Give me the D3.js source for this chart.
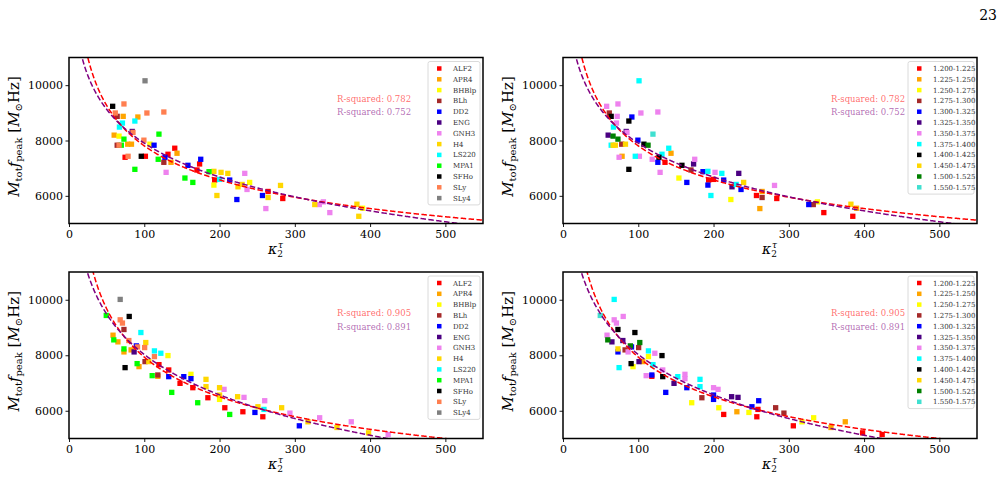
<!DOCTYPE html>
<html>
<head>
<meta charset="utf-8">
<script src="https://cdn.jsdelivr.net/npm/d3@7"></script>
<style>
  body { margin: 0; background: #fff; }
  text { font-family: "DejaVu Serif", serif; }
</style>
</head>
<body>
<svg id="chart"></svg>
<script>
// Equations of state and their colours (left panels)
const eosNames = ["ALF2", "APR4", "BHBlp", "BLh", "DD2", "ENG", "GNH3", "H4", "LS220", "MPA1", "SFHo", "SLy", "SLy4"];
const eosColors = ["#ff0000", "#ffa500", "#ffff00", "#a52a2a", "#0000ff", "#4b0082", "#ee82ee", "#ffd700", "#00ffff", "#00ff00", "#000000", "#ff7f50", "#808080"];

// Mass bins and their colours (right panels)
const massBins = ["1.200-1.225", "1.225-1.250", "1.250-1.275", "1.275-1.300", "1.300-1.325", "1.325-1.350", "1.350-1.375", "1.375-1.400", "1.400-1.425", "1.450-1.475", "1.500-1.525", "1.550-1.575"];
const massColors = ["#ff0000", "#ffa500", "#ffff00", "#a52a2a", "#0000ff", "#4b0082", "#ee82ee", "#00ffff", "#000000", "#ffd700", "#008000", "#40e0d0"];

// Ticks
const xTicks = [0, 100, 200, 300, 400, 500];
const yTicks = [6000, 8000, 10000];

// Top row: [kappa, M f_peak, EOS, mass bin]
const topPoints = [
  [58, 9236, "SFHo", "1.350-1.375"], [101, 10158, "SLy4", "1.375-1.400"], [73, 9321, "SLy", "1.350-1.375"],
  [61.5, 8994, "SLy", "1.275-1.300"], [64, 8873, "BLh", "1.400-1.425"], [72, 8873, "APR4", "1.350-1.375"],
  [71, 8630, "LS220", "1.350-1.375"], [67, 8485, "LS220", "1.375-1.400"], [87.5, 8703, "LS220", "1.400-1.425"],
  [91.5, 8849, "APR4", "1.300-1.325"], [103.5, 8994, "SLy", "1.350-1.375"], [126, 9030, "SLy", "1.350-1.375"],
  [84, 8327, "ENG", "1.325-1.350"], [85, 8291, "SLy", "1.350-1.375"], [60, 8194, "APR4", "1.325-1.350"],
  [66.5, 8158, "BHBlp", "1.500-1.525"], [73, 8049, "MPA1", "1.500-1.525"], [119.5, 8230, "MPA1", "1.550-1.575"],
  [99.5, 8012, "SLy", "1.300-1.325"], [64, 7830, "BLh", "1.375-1.400"], [66.5, 7830, "SLy", "1.450-1.475"],
  [69.5, 7830, "MPA1", "1.450-1.475"], [78, 7867, "APR4", "1.275-1.300"], [83, 7867, "APR4", "1.450-1.475"],
  [107.5, 7867, "BHBlp", "1.400-1.425"], [113, 7830, "DD2", "1.500-1.525"], [74.5, 7394, "ALF2", "1.350-1.375"],
  [78.5, 7430, "SLy", "1.225-1.250"], [96, 7430, "SFHo", "1.375-1.400"], [101.5, 7430, "ALF2", "1.350-1.375"],
  [87.5, 6958, "MPA1", "1.400-1.425"], [118.5, 7321, "MPA1", "1.350-1.375"], [131.5, 7503, "ALF2", "1.375-1.400"],
  [127.5, 7394, "DD2", "1.400-1.425"], [126, 7212, "BLh", "1.300-1.325"], [140.5, 7721, "ALF2", "1.375-1.400"],
  [143.5, 7539, "APR4", "1.225-1.250"], [135.5, 7212, "APR4", "1.200-1.225"], [129, 6849, "GNH3", "1.350-1.375"],
  [158, 7103, "DD2", "1.400-1.425"], [154, 6643, "MPA1", "1.250-1.275"], [164.5, 6485, "MPA1", "1.300-1.325"],
  [170, 6934, "ALF2", "1.275-1.300"], [173.5, 7152, "ALF2", "1.325-1.350"], [175, 7321, "DD2", "1.350-1.375"],
  [186, 6873, "MPA1", "1.300-1.325"], [192.5, 6885, "H4", "1.375-1.400"], [202, 6849, "H4", "1.350-1.375"],
  [211, 6812, "H4", "1.375-1.400"], [193.5, 6570, "ALF2", "1.200-1.225"], [192.5, 6388, "BHBlp", "1.300-1.325"],
  [196.5, 6012, "H4", "1.375-1.400"], [200, 6594, "LS220", "1.200-1.225"], [213.5, 6570, "DD2", "1.300-1.325"],
  [224.5, 6327, "H4", "1.325-1.350"], [230, 6412, "H4", "1.375-1.400"], [240, 6485, "BHBlp", "1.450-1.475"],
  [233.5, 6812, "GNH3", "1.325-1.350"], [236.5, 6230, "GNH3", "1.300-1.325"], [223, 5867, "DD2", "1.250-1.275"],
  [257, 6012, "DD2", "1.200-1.225"], [264.5, 5940, "H4", "1.275-1.300"], [264.5, 6158, "ALF2", "1.225-1.250"],
  [261.5, 5540, "GNH3", "1.225-1.250"], [281, 6376, "H4", "1.350-1.375"], [284, 5903, "ALF2", "1.200-1.225"],
  [326.5, 5685, "H4", "1.300-1.325"], [332.5, 5685, "GNH3", "1.275-1.300"], [338, 5782, "GNH3", "1.250-1.275"],
  [346.5, 5394, "GNH3", "1.200-1.225"], [382.5, 5697, "H4", "1.450-1.475"], [390, 5552, "BHBlp", "1.225-1.250"],
  [385, 5261, "H4", "1.200-1.225"]
];

// Bottom row: [kappa, M f_peak, EOS, mass bin]
const bottomPoints = [
  [68, 10012, "SLy4", "1.375-1.400"], [49.5, 9434, "MPA1", "1.550-1.575"], [80, 9398, "SFHo", "1.350-1.375"],
  [68, 9277, "SLy", "1.350-1.375"], [71, 9160, "SLy", "1.350-1.375"], [73, 8928, "BLh", "1.400-1.425"],
  [58.5, 8723, "APR4", "1.350-1.375"], [59.5, 8554, "MPA1", "1.500-1.525"], [65, 8482, "APR4", "1.325-1.350"],
  [95.5, 8819, "LS220", "1.400-1.425"], [79.5, 8530, "SLy", "1.325-1.350"], [102, 8458, "H4", "1.500-1.525"],
  [100.5, 8277, "SLy", "1.275-1.300"], [89.5, 8337, "DD2", "1.500-1.525"], [91, 8300, "SLy", "1.300-1.325"],
  [73, 8229, "MPA1", "1.450-1.475"], [73, 8120, "APR4", "1.300-1.325"], [86.5, 8120, "ENG", "1.350-1.375"],
  [82.5, 8193, "APR4", "1.275-1.300"], [113.5, 8157, "LS220", "1.375-1.400"], [113.5, 7952, "SLy", "1.250-1.275"],
  [122, 8072, "LS220", "1.350-1.375"], [131.5, 7988, "BHBlp", "1.400-1.425"], [101, 7771, "BLh", "1.325-1.350"],
  [106, 7771, "H4", "1.225-1.250"], [90.5, 7698, "MPA1", "1.400-1.425"], [93, 7590, "APR4", "1.250-1.275"],
  [74.5, 7554, "SFHo", "1.375-1.400"], [119.5, 7662, "ALF2", "1.375-1.400"], [132.5, 7470, "ALF2", "1.350-1.375"],
  [110.5, 7265, "MPA1", "1.350-1.375"], [118, 7289, "BLh", "1.300-1.325"], [118, 7241, "APR4", "1.200-1.225"],
  [132.5, 7229, "DD2", "1.400-1.425"], [152.5, 7229, "DD2", "1.375-1.400"], [162, 7313, "BHBlp", "1.350-1.375"],
  [162, 7156, "DD2", "1.350-1.375"], [182, 7132, "H4", "1.375-1.400"], [147.5, 6988, "ALF2", "1.325-1.350"],
  [136.5, 6662, "MPA1", "1.300-1.325"], [164.5, 6831, "ALF2", "1.300-1.325"], [182, 6867, "H4", "1.375-1.400"],
  [184.5, 6469, "ALF2", "1.275-1.300"], [171, 6289, "MPA1", "1.250-1.275"], [200, 6831, "H4", "1.350-1.375"],
  [206, 6771, "GNH3", "1.350-1.375"], [200, 6566, "H4", "1.300-1.325"], [200, 6409, "BHBlp", "1.300-1.325"],
  [224, 6506, "H4", "1.325-1.350"], [232.5, 6482, "GNH3", "1.325-1.350"], [207, 6108, "ALF2", "1.250-1.275"],
  [213.5, 5867, "MPA1", "1.200-1.225"], [231, 5964, "ALF2", "1.225-1.250"], [247, 5939, "DD2", "1.250-1.275"],
  [257.5, 5783, "ALF2", "1.200-1.225"], [251, 6144, "H4", "1.300-1.325"], [259, 6048, "LS220", "1.200-1.225"],
  [260, 6361, "GNH3", "1.300-1.325"], [282.5, 6108, "H4", "1.275-1.300"], [293.5, 5915, "GNH3", "1.275-1.300"],
  [306, 5457, "DD2", "1.200-1.225"], [317.5, 5602, "H4", "1.250-1.275"], [333, 5747, "GNH3", "1.250-1.275"],
  [356, 5397, "H4", "1.225-1.250"], [375, 5602, "GNH3", "1.225-1.250"], [398, 5204, "H4", "1.200-1.225"],
  [424, 5144, "GNH3", "1.200-1.225"]
];

// Fit parameters: red = a*k^b, purple = a + b*ln(k)
const topFit = { power: [24383, -0.2473], log: [16032, -1765] };
const bottomFit = { power: [29717, -0.2868], log: [17699, -2100] };
const topRSquared = ["0.782", "0.752"];
const bottomRSquared = ["0.905", "0.891"];

// Page set-up
const width = 1006;
const height = 484;
const plotW = 414;

const svg = d3.select("#chart")
  .attr("width", width)
  .attr("height", height);

// page number
svg.append("text")
  .attr("x", 997).attr("y", 20)
  .attr("text-anchor", "end")
  .attr("font-size", 14)
  .text("23");

const panels = [
  { left: 69, top: 57.5, bottom: 223.5, points: topPoints, fit: topFit, r2: topRSquared, byMass: false },
  { left: 563, top: 57.5, bottom: 223.5, points: topPoints, fit: topFit, r2: topRSquared, byMass: true },
  { left: 69, top: 272, bottom: 438.5, points: bottomPoints, fit: bottomFit, r2: bottomRSquared, byMass: false },
  { left: 563, top: 272, bottom: 438.5, points: bottomPoints, fit: bottomFit, r2: bottomRSquared, byMass: true }
];

panels.forEach((p, i) => {
  const x = d3.scaleLinear().domain([0, 550]).range([p.left, p.left + plotW]);
  const y = d3.scaleLinear().domain([5000, 11000]).range([p.bottom, p.top]);
  const names = p.byMass ? massBins : eosNames;
  const colors = p.byMass ? massColors : eosColors;
  const color = d3.scaleOrdinal().domain(names).range(colors);
  const keyOf = d => p.byMass ? d[3] : d[2];

  const g = svg.append("g");

  g.append("clipPath").attr("id", "clip" + i)
    .append("rect")
    .attr("x", p.left).attr("y", p.top)
    .attr("width", plotW).attr("height", p.bottom - p.top);

  // scatter, one group after the other like the legend order
  const sorted = p.points.slice().sort((a, b) => names.indexOf(keyOf(a)) - names.indexOf(keyOf(b)));
  const s = 5.3;
  g.append("g").attr("clip-path", `url(#clip${i})`)
    .selectAll("rect")
    .data(sorted)
    .join("rect")
    .attr("x", d => x(d[0]) - s / 2)
    .attr("y", d => y(d[1]) - s / 2)
    .attr("width", s).attr("height", s)
    .attr("fill", d => color(keyOf(d)));

  // fit curves
  const ks = d3.range(5, 551, 1);
  const powerLine = d3.line().x(k => x(k)).y(k => y(p.fit.power[0] * Math.pow(k, p.fit.power[1])));
  const logLine = d3.line().x(k => x(k)).y(k => y(p.fit.log[0] + p.fit.log[1] * Math.log(k)));
  const curves = g.append("g").attr("clip-path", `url(#clip${i})`);
  curves.append("path").attr("d", powerLine(ks))
    .attr("fill", "none").attr("stroke", "red").attr("stroke-width", 1.5)
    .attr("stroke-dasharray", "5.5,2.4");
  curves.append("path").attr("d", logLine(ks))
    .attr("fill", "none").attr("stroke", "purple").attr("stroke-width", 1.5)
    .attr("stroke-dasharray", "5.5,2.4");

  // R-squared texts
  g.append("text").attr("x", p.left + 268).attr("y", p.top + 44)
    .attr("font-size", 8.5).attr("fill", "red").attr("fill-opacity", 0.6)
    .text("R-squared: " + p.r2[0]);
  g.append("text").attr("x", p.left + 268).attr("y", p.top + 57.5)
    .attr("font-size", 8.5).attr("fill", "purple").attr("fill-opacity", 0.6)
    .text("R-squared: " + p.r2[1]);

  // axes
  const xAxis = g.append("g")
    .attr("transform", `translate(0,${p.bottom})`)
    .call(d3.axisBottom(x).tickValues(xTicks).tickFormat(d3.format("d"))
      .tickSize(3.5).tickSizeOuter(0).tickPadding(3));
  const yAxis = g.append("g")
    .attr("transform", `translate(${p.left},0)`)
    .call(d3.axisLeft(y).tickValues(yTicks).tickFormat(d3.format("d"))
      .tickSize(3.5).tickSizeOuter(0).tickPadding(2.5));
  [xAxis, yAxis].forEach(a => {
    a.select(".domain").remove();
    a.selectAll("text").attr("font-family", "DejaVu Serif").attr("font-size", 11).attr("fill", "#000");
    a.selectAll("line").attr("stroke", "#000").attr("stroke-width", 0.9);
  });

  // frame
  g.append("rect")
    .attr("x", p.left).attr("y", p.top)
    .attr("width", plotW).attr("height", p.bottom - p.top)
    .attr("fill", "none").attr("stroke", "#000").attr("stroke-width", 1.5);

  // x label: kappa_2^tau
  const xl = g.append("text")
    .attr("x", p.left + plotW / 2 - 8).attr("y", p.bottom + 30)
    .attr("font-size", 14).attr("font-style", "italic");
  xl.append("tspan").text("κ");
  xl.append("tspan").attr("font-size", 9).attr("font-style", "normal").attr("dy", 3).text("2");
  xl.append("tspan").attr("font-size", 9).attr("dx", -5).attr("dy", -9).text("τ");

  // y label
  const cy = (p.top + p.bottom) / 2;
  const yl = g.append("text")
    .attr("transform", `translate(${p.left - 50},${cy - 4}) rotate(-90)`)
    .attr("text-anchor", "middle")
    .attr("font-size", 15);
  yl.append("tspan").attr("font-style", "italic").text("M");
  yl.append("tspan").attr("font-size", 10).attr("dy", 3).text("tot");
  yl.append("tspan").attr("font-style", "italic").attr("dy", -3).text("f");
  yl.append("tspan").attr("font-size", 10).attr("dy", 3).text("peak");
  yl.append("tspan").attr("dy", -3).text(" [");
  yl.append("tspan").attr("font-style", "italic").text("M");
  yl.append("tspan").attr("font-size", 10).attr("dy", 3).text("⊙");
  yl.append("tspan").attr("dy", -3).text("Hz]");

  // legend
  const rowH = 10.8;
  const boxW = p.byMass ? 66 : 52;
  const boxX = p.left + plotW - 3 - boxW;
  const boxY = p.top + 4;
  const leg = g.append("g");
  leg.append("rect")
    .attr("x", boxX).attr("y", boxY)
    .attr("width", boxW).attr("height", names.length * rowH + 3)
    .attr("rx", 2)
    .attr("fill", "#fff").attr("fill-opacity", 0.8)
    .attr("stroke", "#d0d0d0").attr("stroke-width", 0.8);
  const rows = leg.selectAll("g.row")
    .data(names)
    .join("g")
    .attr("class", "row")
    .attr("transform", (d, j) => `translate(${boxX},${boxY + 7 + j * rowH})`);
  rows.append("rect")
    .attr("x", 9).attr("y", -2.25)
    .attr("width", 4.5).attr("height", 4.5)
    .attr("fill", d => color(d));
  rows.append("text")
    .attr("x", 25).attr("y", 2.5)
    .attr("font-family", "Liberation Serif")
    .attr("font-size", 7)
    .attr("fill", "#333")
    .text(d => d);
});
</script>
</body>
</html>
